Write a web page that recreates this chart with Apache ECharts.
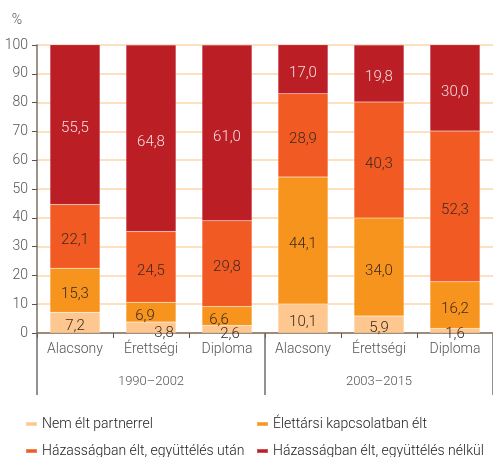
<!DOCTYPE html>
<html>
<head>
<meta charset="utf-8">
<script src="https://cdn.jsdelivr.net/npm/echarts@6/dist/echarts.min.js"></script>
<style>
  html, body { margin: 0; padding: 0; background: #fff; }
  #chart { width: 493px; height: 457px; }
</style>
</head>
<body>
<div id="chart"></div>
<script>
const categories = ["Alacsony", "Érettségi", "Diploma", "Alacsony", "Érettségi", "Diploma"];
const periods = ["1990–2002", "2003–2015"];
const yTicks = [0, 10, 20, 30, 40, 50, 60, 70, 80, 90, 100];

const nemElt = [7.2, 3.8, 2.6, 10.1, 5.9, 1.6];
const elettarsi = [15.3, 6.9, 6.6, 44.1, 34.0, 16.2];
const hazasUtan = [22.1, 24.5, 29.8, 28.9, 40.3, 52.3];
const hazasNelkul = [55.5, 64.8, 61.0, 17.0, 19.8, 30.0];

const names = [
  "Nem élt partnerrel",
  "Élettársi kapcsolatban élt",
  "Házasságban élt, együttélés után",
  "Házasságban élt, együttélés nélkül"
];

// small labels that are pushed sideways in the original
const labelNudge = {
  "0-1": [13, 6],
  "0-2": [3, 5],
  "1-1": [-6, 4],
  "1-2": [-8, 4]
};

const FONT = "Roboto, sans-serif";

const chart = echarts.init(document.querySelector("#chart"), null, {renderer: "canvas"});

function fmt(p) {
  return p.value.toFixed(1).replace(".", ",");
}

function bar(idx, data, color, textColor) {
  return {
    name: names[idx],
    type: "bar",
    stack: "total",
    barWidth: 50,
    data: data.map((v, i) => {
      const nudge = labelNudge[idx + "-" + i];
      return nudge ? {value: v, label: {offset: nudge}} : v;
    }),
    itemStyle: {color: color, borderColor: "rgba(255,255,255,0.25)", borderWidth: 0.5},
    label: {
      show: true,
      position: "inside",
      offset: [0, 4],
      formatter: fmt,
      color: textColor,
      fontFamily: FONT,
      fontWeight: 300,
      fontSize: 15
    }
  };
}

// one legend per item, two columns
function legend(name, left, top) {
  return {
    left: left,
    top: top,
    itemWidth: 11,
    itemHeight: 4,
    icon: "rect",
    textStyle: {fontFamily: FONT, fontWeight: 300, fontSize: 14, color: "#222"},
    data: [name]
  };
}

chart.setOption({
  animation: false,
  grid: {left: 37, right: -1, top: 45, bottom: 124},
  legend: [
    legend(names[0], 20, 412),
    legend(names[1], 251, 412),
    legend(names[2], 20, 439),
    legend(names[3], 251, 439)
  ],
  xAxis: [
    {
      type: "category",
      data: categories,
      axisLine: {lineStyle: {color: "#7d6e60", width: 1.5}},
      axisTick: {show: true, length: 5, lineStyle: {color: "#555"}},
      axisLabel: {fontFamily: FONT, fontWeight: 300, fontSize: 14, color: "#555", margin: 9}
    },
    {
      type: "category",
      data: periods,
      position: "bottom",
      axisLine: {show: false},
      axisTick: {show: true, length: 62, interval: 0, lineStyle: {color: "#6d6d6d", width: 1.5}},
      axisLabel: {fontFamily: FONT, fontWeight: 300, fontSize: 13, color: "#555", margin: 42}
    }
  ],
  yAxis: {
    type: "value",
    min: yTicks[0],
    max: yTicks[yTicks.length - 1],
    interval: 10,
    name: "%",
    nameLocation: "end",
    nameGap: 18,
    nameTextStyle: {fontFamily: FONT, fontWeight: 300, fontSize: 14, color: "#555", align: "right", padding: [0, 15, 0, 0]},
    axisLine: {show: true, lineStyle: {color: "#7d6e60", width: 1.5}},
    axisTick: {show: true, length: 5, lineStyle: {color: "#555"}},
    axisLabel: {fontFamily: FONT, fontWeight: 300, fontSize: 14, color: "#555", margin: 9},
    splitLine: {lineStyle: {color: "#fde0c0", width: 2}}
  },
  series: [
    bar(0, nemElt, "#fdc78f", "#3a2a20"),
    bar(1, elettarsi, "#f7941d", "#3a2a20"),
    bar(2, hazasUtan, "#f15a22", "#3a2a20"),
    bar(3, hazasNelkul, "#bc1e26", "#f6dede")
  ]
});
</script>
</body>
</html>
